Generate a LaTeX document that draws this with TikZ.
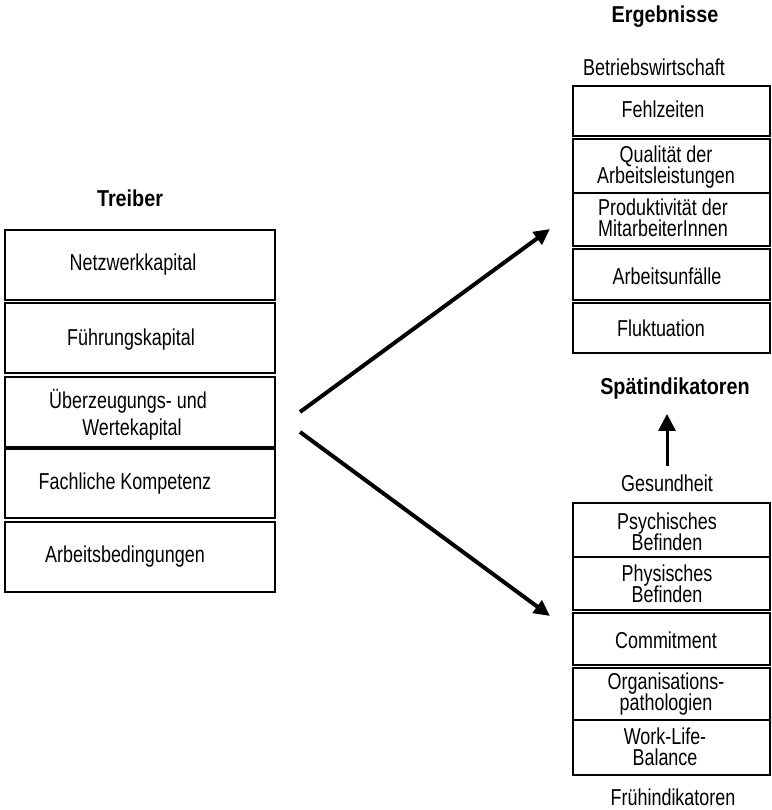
\documentclass[tikz,border=0pt]{standalone}
\usepackage{fontspec}
\setmainfont{Liberation Sans}[FakeStretch=0.78,BoldFeatures={FakeStretch=0.86}]
\usetikzlibrary{arrows.meta}

\begin{document}
\begin{tikzpicture}[x=1pt,y=-1pt,
        feld/.style={draw,line width=1.3pt,minimum height=#1},
        links/.style={feld=#1,minimum width=270pt},
        rechts/.style={feld=#1,minimum width=197pt},
        txt/.style={align=center,font=\fontsize{23}{21.5}\selectfont},
        titel/.style={font=\fontsize{23}{24}\selectfont\bfseries},
        pfeil/.style={line width=4pt,-{Triangle[length=16pt,width=15pt]}}]
        \tikzstyle{every node}+=[inner sep=0pt]
        \useasboundingbox (0,0) rectangle (771,810);
        % Treiber
        \node[titel] (treiber) at (130,198) {Treiber};
        \node[links=70pt] (netz) at (140,265) {};
        \node[links=70pt] (fuehr) at (140,338) {};
        \node[links=70pt] (werte) at (140,412) {};
        \node[links=69pt] (fach) at (140,483.5) {};
        \node[links=70pt] (bed) at (140,557) {};
        \node[txt] (netzT) at (133,265) {Netzwerkkapital};
        \node[txt] (fuehrT) at (131,340) {Führungskapital};
        \node[txt] (werteT) at (128,415) {Überzeugungs- und\\[6pt]\hspace*{8pt}Wertekapital};
        \node[txt] (fachT) at (125,484) {Fachliche Kompetenz};
        \node[txt] (bedT) at (125,557) {Arbeitsbedingungen};
        % Ergebnisse
        \node[titel] (erg) at (665,17) {Ergebnisse};
        \node[txt] (bwl) at (654,67) {Betriebswirtschaft};
        \node[rechts=50pt] (fehl) at (671.5,111) {};
        \node[rechts=54pt] (qual) at (671.5,166) {};
        \node[rechts=53pt] (prod) at (671.5,219.5) {};
        \node[rechts=51pt] (unf) at (671.5,274.5) {};
        \node[rechts=50pt] (flukt) at (671.5,328) {};
        \node[txt] (fehlT) at (663,109) {Fehlzeiten};
        \node[txt] (qualT) at (666,167) {Qualität der\\Arbeitsleistungen};
        \node[txt] (prodT) at (663,218) {Produktivität der\\MitarbeiterInnen};
        \node[txt] (unfT) at (667,276) {Arbeitsunfälle};
        \node[txt] (fluktT) at (661,328) {Fluktuation};
        \node[titel] (spaet) at (675,389) {Spätindikatoren};
        % Gesundheit
        \node[txt] (gesund) at (667,483) {Gesundheit};
        \node[rechts=54pt] (psych) at (671.5,530) {};
        \node[rechts=53pt] (phys) at (671.5,583.5) {};
        \node[rechts=52pt] (comm) at (671.5,639) {};
        \node[rechts=52pt] (orga) at (671.5,694) {};
        \node[rechts=55pt] (wlb) at (671.5,747.5) {};
        \node[txt] (psychT) at (667,532) {Psychisches\\Befinden};
        \node[txt] (physT) at (667,584) {Physisches\\Befinden};
        \node[txt] (commT) at (666,640) {Commitment};
        \node[txt] (orgaT) at (666,694) {Organisations-\\pathologien};
        \node[txt] (wlbT) at (665,747) {Work-Life-\\Balance};
        \node[txt] (frueh) at (673,797) {Frühindikatoren};
        % Pfeile
        \coordinate (von1) at (300,412);
        \coordinate (nach1) at (550,229);
        \coordinate (von2) at (300,432);
        \coordinate (nach2) at (550,616);
        \draw[pfeil] (von1) -- (nach1);
        \draw[pfeil] (von2) -- (nach2);
        \draw[pfeil,line width=3pt,-{Triangle[length=17pt,width=17pt]}] ([yshift=8pt]gesund.north) -- ([yshift=-14pt]gesund.north |- spaet.south);
    \end{tikzpicture}
\end{document}
